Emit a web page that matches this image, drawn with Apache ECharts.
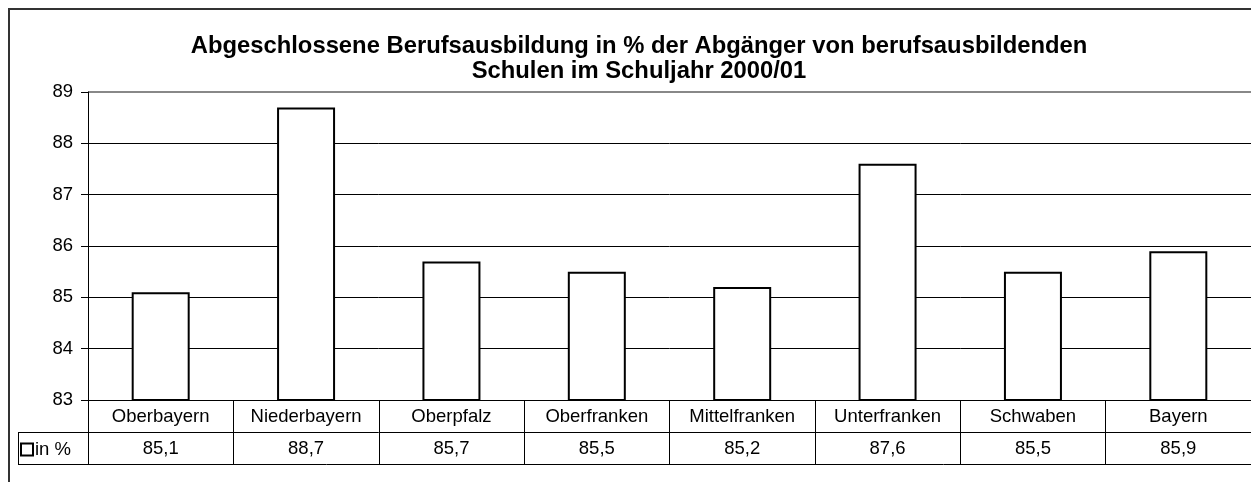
<!DOCTYPE html>
<html>
<head>
<meta charset="utf-8">
<script src="https://cdn.jsdelivr.net/npm/echarts@6/dist/echarts.min.js"></script>
<style>
  html, body { margin: 0; padding: 0; background: #fff; }
  #chart { width: 1251px; height: 482px; }
</style>
</head>
<body>
<div id="chart"></div>
<script>
var regionen = ['Oberbayern', 'Niederbayern', 'Oberpfalz', 'Oberfranken', 'Mittelfranken', 'Unterfranken', 'Schwaben', 'Bayern'];
var anteil = [85.1, 88.7, 85.7, 85.5, 85.2, 87.6, 85.5, 85.9];
var serienName = 'in %';
var titelText = 'Abgeschlossene Berufsausbildung in % der Abgänger von berufsausbildenden\nSchulen im Schuljahr 2000/01';

window.onload = function(){
  var chart = echarts.init(document.getElementById('chart'));
  var font = 'Arial, "Liberation Sans", sans-serif';
  var fs = 18.5;

  function komma(v){
    return v.toFixed(1).replace('.', ',');
  }

  var opt = {
    animation: false,
    backgroundColor: '#fff',
    title: {
      text: titelText,
      left: 634,
      top: 29,
      textAlign: 'center',
      textStyle: { fontFamily: font, fontSize: 23.8, fontWeight: 'bold', color: '#000', lineHeight: 25 }
    },
    legend: {
      data: [serienName],
      left: 20,
      top: 440,
      padding: 0,
      itemWidth: 12,
      itemHeight: 12,
      icon: 'rect',
      textStyle: { fontFamily: font, fontSize: fs, color: '#000', padding: [0, 0, 0, -3] }
    },
    grid: { left: 88, top: 92, width: 1170, height: 308 },
    xAxis: [{
      type: 'category',
      data: regionen,
      position: 'bottom',
      axisLine: { lineStyle: { color: '#000', width: 1 } },
      axisTick: { show: true, interval: 0, length: 32, lineStyle: { color: '#000' } },
      axisLabel: { interval: 0, margin: 7, fontFamily: font, fontSize: fs, color: '#000' }
    }, {
      type: 'category',
      data: regionen,
      position: 'bottom',
      offset: 32,
      axisLine: { lineStyle: { color: '#000', width: 1 } },
      axisTick: { show: true, interval: 0, length: 32, lineStyle: { color: '#000' } },
      axisLabel: {
        interval: 0, margin: 7, fontFamily: font, fontSize: fs, color: '#000',
        formatter: function(v, i){ return komma(anteil[i]); }
      }
    }],
    yAxis: {
      type: 'value',
      min: 83,
      max: 89,
      interval: 1,
      axisLine: { show: true, lineStyle: { color: '#000', width: 1 } },
      axisTick: { show: true, length: 7, lineStyle: { color: '#000' } },
      axisLabel: { margin: 15, fontFamily: font, fontSize: fs, color: '#000' },
      splitLine: { lineStyle: { color: ['#000', '#000', '#000', '#000', '#000', '#000', '#888'], width: 1 } }
    },
    series: [{
      name: serienName,
      type: 'bar',
      data: anteil,
      barWidth: 58,
      itemStyle: { color: '#fff', borderColor: '#000', borderWidth: 2 }
    }],
    graphic: [
      { type: 'rect', shape: { x: 9, y: 9, width: 1300, height: 520 }, style: { fill: null, stroke: '#333', lineWidth: 2 }, silent: true },
      { type: 'line', shape: { x1: 88, y1: 92, x2: 1260, y2: 92 }, style: { stroke: '#888', lineWidth: 2 }, silent: true },
      { type: 'line', shape: { x1: 18, y1: 432.5, x2: 88, y2: 432.5 }, style: { stroke: '#000', lineWidth: 1 } },
      { type: 'line', shape: { x1: 18, y1: 464.5, x2: 1260, y2: 464.5 }, style: { stroke: '#000', lineWidth: 1 } },
      { type: 'line', shape: { x1: 18.5, y1: 432, x2: 18.5, y2: 465 }, style: { stroke: '#000', lineWidth: 1 } }
    ]
  };

  chart.setOption(opt);
};
</script>
</body>
</html>
